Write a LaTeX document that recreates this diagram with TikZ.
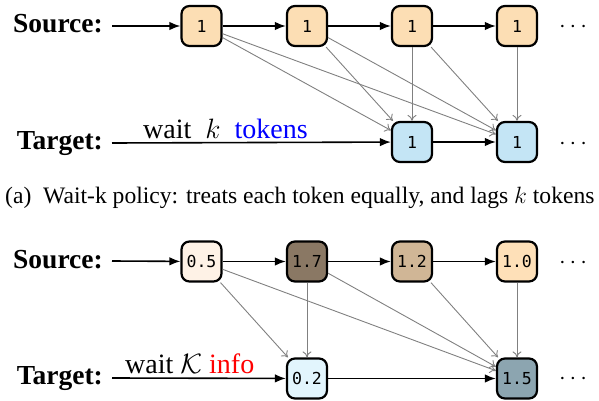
\RequirePackage{fix-cm}
\documentclass[tikz,border=0pt]{standalone}
\usepackage{fontspec}
\setmainfont{Liberation Serif}
\newfontfamily\tokfont{DejaVu Sans Mono}
\usetikzlibrary{arrows.meta}
\definecolor{srcA}{RGB}{252,222,180}
\definecolor{tgtA}{RGB}{196,229,245}
\definecolor{bA}{RGB}{254,242,230}
\definecolor{bB}{RGB}{138,120,100}
\definecolor{bC}{RGB}{208,182,150}
\definecolor{bD}{RGB}{254,224,184}
\definecolor{bE}{RGB}{226,245,253}
\definecolor{bF}{RGB}{140,165,176}
\tikzset{
 tok/.style={draw, line width=2.2pt, rounded corners=8pt, minimum width=40pt, minimum height=40pt, inner sep=0pt, font=\tokfont\fontsize{16.5}{16.5}\selectfont},
 lbl/.style={font=\bfseries\fontsize{27.5}{28}\selectfont, anchor=base east, inner sep=0pt},
 flow/.style={-{Latex[length=11pt,width=8.5pt]}, line width=1.6pt},
 dep/.style={-{To[length=6pt,width=9pt]}, draw=gray, line width=0.9pt},
 dotsn/.style={font=\fontsize{24}{24}\selectfont, anchor=base, inner sep=0pt},
 waitn/.style={font=\fontsize{28}{28}\selectfont, anchor=base west, inner sep=0pt},
 capn/.style={font=\fontsize{23.6}{24}\selectfont, anchor=base west, inner sep=0pt}
}
\begin{document}
\begin{tikzpicture}[x=1pt,y=-1pt]
\useasboundingbox (0,0) rectangle (599,401);
% ---------- top (a)
\node[lbl] (srcl) at (103,33) {Source:};
\node[lbl] (tgtl) at (103,149) {Target:};
\coordinate (sa) at (112,26);
\coordinate (ta) at (112,143);
\node[tok, fill=srcA] (s1) at (201.5,26) {1};
\node[tok, fill=srcA] (s2) at (307,26) {1};
\node[tok, fill=srcA] (s3) at (412,26) {1};
\node[tok, fill=srcA] (s4) at (517,26) {1};
\node[tok, fill=tgtA] (t1) at (412,142) {1};
\node[tok, fill=tgtA] (t2) at (517,142) {1};
\draw[flow] (sa) -- (s1);
\draw[flow] (s1) -- (s2);
\draw[flow] (s2) -- (s3);
\draw[flow] (s3) -- (s4);
\draw[flow] (ta) -- (t1);
\draw[flow] (t1) -- (t2);
\draw[dep] (s1) -- (t1);
\draw[dep] (s1) -- (t2);
\draw[dep] (s2) -- (t1);
\draw[dep] (s2) -- (t2);
\draw[dep] (s3) -- (t1);
\draw[dep] (s3) -- (t2);
\draw[dep] (s4) -- (t2);
\node[waitn] (wa) at (143,138) {wait\ \ $k$\ \ \textcolor{blue}{tokens}};
\node[dotsn] (d1) at (573,33) {$\cdots$};
\node[dotsn] (d2) at (573,149) {$\cdots$};
\node[capn] (capa) at (5,203) {(a)\ \ Wait-k policy: treats each token equally, and lags $k$ tokens};
% ---------- bottom (b)
\node[lbl] (srcl2) at (103,268) {Source:};
\node[lbl] (tgtl2) at (103,384) {Target:};
\coordinate (sb) at (112,261);
\coordinate (tb) at (112,378);
\node[tok, fill=bA] (u1) at (201.5,261.5) {0.5};
\node[tok, fill=bB] (u2) at (307,261.5) {1.7};
\node[tok, fill=bC] (u3) at (412,261.5) {1.2};
\node[tok, fill=bD] (u4) at (517,261.5) {1.0};
\node[tok, fill=bE] (v1) at (307,378.5) {0.2};
\node[tok, fill=bF] (v2) at (517,378.5) {1.5};
\draw[flow] (sb) -- (u1);
\draw[flow] (u1) -- (u2);
\draw[flow] (u2) -- (u3);
\draw[flow] (u3) -- (u4);
\draw[flow] (tb) -- (v1);
\draw[flow] (v1) -- (v2);
\draw[dep] (u1) -- (v1);
\draw[dep] (u1) -- (v2);
\draw[dep] (u2) -- (v1);
\draw[dep] (u2) -- (v2);
\draw[dep] (u3) -- (v2);
\draw[dep] (u4) -- (v2);
\node[waitn] (wb) at (125,373) {wait $\mathcal{K}$ \textcolor{red}{info}};
\node[dotsn] (d3) at (573,268) {$\cdots$};
\node[dotsn] (d4) at (573,384) {$\cdots$};
\end{tikzpicture}
\end{document}
